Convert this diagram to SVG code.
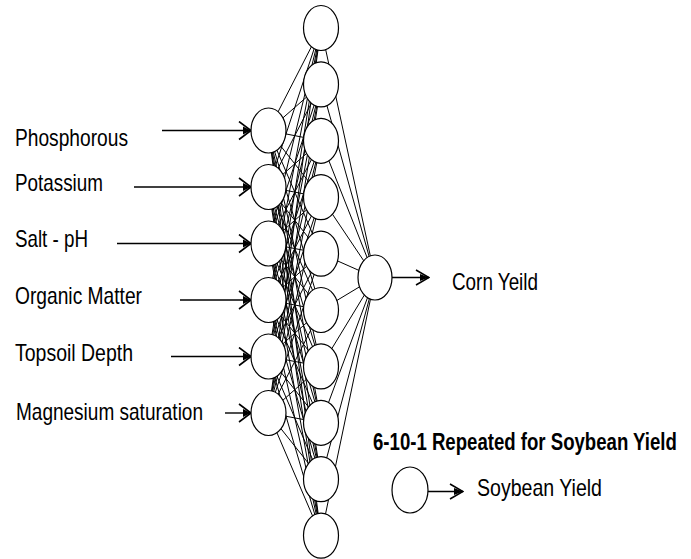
<svg xmlns="http://www.w3.org/2000/svg" width="691" height="559" viewBox="0 0 691 559">
<style>
.bg{fill:#ffffff}
.node{fill:#ffffff;stroke:#000000;stroke-width:1.2}
.edge{stroke:#000000;stroke-width:1;fill:none}
.arrow{stroke:#000000;stroke-width:1.4;fill:none}
.lbl{font-family:"Liberation Sans",Arial,sans-serif;font-size:24px;fill:#000000}
.head{font-family:"Liberation Sans",Arial,sans-serif;font-size:18.6px;font-weight:bold;fill:#000000}
</style>
<defs>
<marker id="ahIn" markerUnits="userSpaceOnUse" viewBox="-1 -10 14 20" markerWidth="14" markerHeight="20" refX="12" refY="0" orient="auto">
<path d="M0,-9 L12,0 L0,9" fill="none" stroke="#000" stroke-width="1.6"/>
<path d="M4,-4 L12,0 L4,4 Z" fill="#000"/>
</marker>
<marker id="ahOut" markerUnits="userSpaceOnUse" viewBox="-1 -9 15 18" markerWidth="15" markerHeight="18" refX="13" refY="0" orient="auto">
<path d="M0,-7.5 L13,0 L0,7.5" fill="none" stroke="#000" stroke-width="1.6"/>
<path d="M4,-3.5 L13,0 L4,3.5 Z" fill="#000"/>
</marker>
</defs>
<rect class="bg" x="0" y="0" width="691" height="559"/>
<g id="connectors">
<g id="input-hidden">
<line class="edge" x1="268.5" y1="130.5" x2="321" y2="28"/>
<line class="edge" x1="268.5" y1="130.5" x2="321" y2="84.4"/>
<line class="edge" x1="268.5" y1="130.5" x2="321" y2="140.8"/>
<line class="edge" x1="268.5" y1="130.5" x2="321" y2="197.2"/>
<line class="edge" x1="268.5" y1="130.5" x2="321" y2="253.6"/>
<line class="edge" x1="268.5" y1="130.5" x2="321" y2="310"/>
<line class="edge" x1="268.5" y1="130.5" x2="321" y2="366.4"/>
<line class="edge" x1="268.5" y1="130.5" x2="321" y2="422.8"/>
<line class="edge" x1="268.5" y1="130.5" x2="321" y2="479.2"/>
<line class="edge" x1="268.5" y1="130.5" x2="321" y2="535.6"/>
<line class="edge" x1="268.5" y1="187" x2="321" y2="28"/>
<line class="edge" x1="268.5" y1="187" x2="321" y2="84.4"/>
<line class="edge" x1="268.5" y1="187" x2="321" y2="140.8"/>
<line class="edge" x1="268.5" y1="187" x2="321" y2="197.2"/>
<line class="edge" x1="268.5" y1="187" x2="321" y2="253.6"/>
<line class="edge" x1="268.5" y1="187" x2="321" y2="310"/>
<line class="edge" x1="268.5" y1="187" x2="321" y2="366.4"/>
<line class="edge" x1="268.5" y1="187" x2="321" y2="422.8"/>
<line class="edge" x1="268.5" y1="187" x2="321" y2="479.2"/>
<line class="edge" x1="268.5" y1="187" x2="321" y2="535.6"/>
<line class="edge" x1="268.5" y1="243.5" x2="321" y2="28"/>
<line class="edge" x1="268.5" y1="243.5" x2="321" y2="84.4"/>
<line class="edge" x1="268.5" y1="243.5" x2="321" y2="140.8"/>
<line class="edge" x1="268.5" y1="243.5" x2="321" y2="197.2"/>
<line class="edge" x1="268.5" y1="243.5" x2="321" y2="253.6"/>
<line class="edge" x1="268.5" y1="243.5" x2="321" y2="310"/>
<line class="edge" x1="268.5" y1="243.5" x2="321" y2="366.4"/>
<line class="edge" x1="268.5" y1="243.5" x2="321" y2="422.8"/>
<line class="edge" x1="268.5" y1="243.5" x2="321" y2="479.2"/>
<line class="edge" x1="268.5" y1="243.5" x2="321" y2="535.6"/>
<line class="edge" x1="268.5" y1="300" x2="321" y2="28"/>
<line class="edge" x1="268.5" y1="300" x2="321" y2="84.4"/>
<line class="edge" x1="268.5" y1="300" x2="321" y2="140.8"/>
<line class="edge" x1="268.5" y1="300" x2="321" y2="197.2"/>
<line class="edge" x1="268.5" y1="300" x2="321" y2="253.6"/>
<line class="edge" x1="268.5" y1="300" x2="321" y2="310"/>
<line class="edge" x1="268.5" y1="300" x2="321" y2="366.4"/>
<line class="edge" x1="268.5" y1="300" x2="321" y2="422.8"/>
<line class="edge" x1="268.5" y1="300" x2="321" y2="479.2"/>
<line class="edge" x1="268.5" y1="300" x2="321" y2="535.6"/>
<line class="edge" x1="268.5" y1="356.5" x2="321" y2="28"/>
<line class="edge" x1="268.5" y1="356.5" x2="321" y2="84.4"/>
<line class="edge" x1="268.5" y1="356.5" x2="321" y2="140.8"/>
<line class="edge" x1="268.5" y1="356.5" x2="321" y2="197.2"/>
<line class="edge" x1="268.5" y1="356.5" x2="321" y2="253.6"/>
<line class="edge" x1="268.5" y1="356.5" x2="321" y2="310"/>
<line class="edge" x1="268.5" y1="356.5" x2="321" y2="366.4"/>
<line class="edge" x1="268.5" y1="356.5" x2="321" y2="422.8"/>
<line class="edge" x1="268.5" y1="356.5" x2="321" y2="479.2"/>
<line class="edge" x1="268.5" y1="356.5" x2="321" y2="535.6"/>
<line class="edge" x1="268.5" y1="413" x2="321" y2="28"/>
<line class="edge" x1="268.5" y1="413" x2="321" y2="84.4"/>
<line class="edge" x1="268.5" y1="413" x2="321" y2="140.8"/>
<line class="edge" x1="268.5" y1="413" x2="321" y2="197.2"/>
<line class="edge" x1="268.5" y1="413" x2="321" y2="253.6"/>
<line class="edge" x1="268.5" y1="413" x2="321" y2="310"/>
<line class="edge" x1="268.5" y1="413" x2="321" y2="366.4"/>
<line class="edge" x1="268.5" y1="413" x2="321" y2="422.8"/>
<line class="edge" x1="268.5" y1="413" x2="321" y2="479.2"/>
<line class="edge" x1="268.5" y1="413" x2="321" y2="535.6"/>
</g>
<g id="hidden-output">
<line class="edge" x1="321" y1="28" x2="375" y2="277.5"/>
<line class="edge" x1="321" y1="84.4" x2="375" y2="277.5"/>
<line class="edge" x1="321" y1="140.8" x2="375" y2="277.5"/>
<line class="edge" x1="321" y1="197.2" x2="375" y2="277.5"/>
<line class="edge" x1="321" y1="253.6" x2="375" y2="277.5"/>
<line class="edge" x1="321" y1="310" x2="375" y2="277.5"/>
<line class="edge" x1="321" y1="366.4" x2="375" y2="277.5"/>
<line class="edge" x1="321" y1="422.8" x2="375" y2="277.5"/>
<line class="edge" x1="321" y1="479.2" x2="375" y2="277.5"/>
<line class="edge" x1="321" y1="535.6" x2="375" y2="277.5"/>
</g>
<g id="arrows">
<line class="arrow" x1="162" y1="130.5" x2="251" y2="130.5" marker-end="url(#ahIn)"/>
<line class="arrow" x1="134" y1="187" x2="251" y2="187" marker-end="url(#ahIn)"/>
<line class="arrow" x1="117" y1="243.5" x2="251" y2="243.5" marker-end="url(#ahIn)"/>
<line class="arrow" x1="180" y1="300" x2="251" y2="300" marker-end="url(#ahIn)"/>
<line class="arrow" x1="171" y1="356.5" x2="251" y2="356.5" marker-end="url(#ahIn)"/>
<line class="arrow" x1="225" y1="413" x2="251" y2="413" marker-end="url(#ahIn)"/>
<line class="arrow" x1="392" y1="277.5" x2="429" y2="277.5" marker-end="url(#ahOut)"/>
<line class="arrow" x1="428" y1="491.5" x2="463" y2="491.5" marker-end="url(#ahOut)"/>
</g>
</g>
<g id="input-nodes">
<g id="in-phosphorous"><ellipse class="node" cx="268.5" cy="130.5" rx="17.5" ry="22.5"/><text class="lbl" x="15" y="146" textLength="113" lengthAdjust="spacingAndGlyphs">Phosphorous</text></g>
<g id="in-potassium"><ellipse class="node" cx="268.5" cy="187" rx="17.5" ry="22.5"/><text class="lbl" x="15" y="191" textLength="88" lengthAdjust="spacingAndGlyphs">Potassium</text></g>
<g id="in-salt-ph"><ellipse class="node" cx="268.5" cy="243.5" rx="17.5" ry="22.5"/><text class="lbl" x="15" y="247" textLength="73" lengthAdjust="spacingAndGlyphs">Salt - pH</text></g>
<g id="in-organic"><ellipse class="node" cx="268.5" cy="300" rx="17.5" ry="22.5"/><text class="lbl" x="15" y="304" textLength="127" lengthAdjust="spacingAndGlyphs">Organic Matter</text></g>
<g id="in-topsoil"><ellipse class="node" cx="268.5" cy="356.5" rx="17.5" ry="22.5"/><text class="lbl" x="15" y="361" textLength="118" lengthAdjust="spacingAndGlyphs">Topsoil Depth</text></g>
<g id="in-magnesium"><ellipse class="node" cx="268.5" cy="413" rx="17.5" ry="22.5"/><text class="lbl" x="16" y="420" textLength="187" lengthAdjust="spacingAndGlyphs">Magnesium saturation</text></g>
</g>
<g id="hidden-nodes">
<g id="h1"><ellipse class="node" cx="321" cy="28" rx="17.5" ry="22.5"/></g>
<g id="h2"><ellipse class="node" cx="321" cy="84.4" rx="17.5" ry="22.5"/></g>
<g id="h3"><ellipse class="node" cx="321" cy="140.8" rx="17.5" ry="22.5"/></g>
<g id="h4"><ellipse class="node" cx="321" cy="197.2" rx="17.5" ry="22.5"/></g>
<g id="h5"><ellipse class="node" cx="321" cy="253.6" rx="17.5" ry="22.5"/></g>
<g id="h6"><ellipse class="node" cx="321" cy="310" rx="17.5" ry="22.5"/></g>
<g id="h7"><ellipse class="node" cx="321" cy="366.4" rx="17.5" ry="22.5"/></g>
<g id="h8"><ellipse class="node" cx="321" cy="422.8" rx="17.5" ry="22.5"/></g>
<g id="h9"><ellipse class="node" cx="321" cy="479.2" rx="17.5" ry="22.5"/></g>
<g id="h10"><ellipse class="node" cx="321" cy="535.6" rx="17.5" ry="22.5"/></g>
</g>
<g id="output-corn"><ellipse class="node" cx="375" cy="277.5" rx="17" ry="22.5"/><text class="lbl" x="452" y="290" textLength="86" lengthAdjust="spacingAndGlyphs">Corn Yeild</text></g>
<g id="soybean-note">
<text class="head" x="0" y="0" transform="translate(373,450) scale(1,1.28)">6-10-1 Repeated for Soybean Yield</text>
</g>
<g id="output-soybean"><ellipse class="node" cx="410" cy="490" rx="18" ry="23"/><text class="lbl" x="477" y="496" textLength="125" lengthAdjust="spacingAndGlyphs">Soybean Yield</text></g>
</svg>
